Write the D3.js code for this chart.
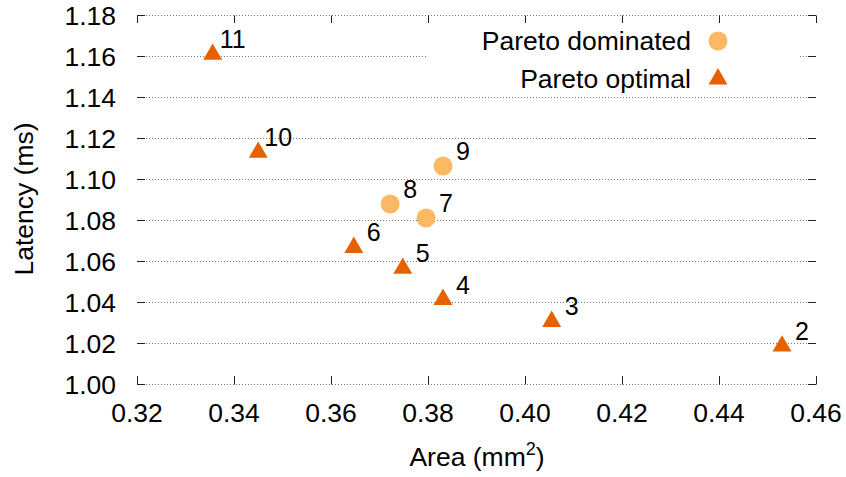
<!DOCTYPE html>
<html>
<head>
<meta charset="utf-8">
<script src="https://cdn.jsdelivr.net/npm/d3@7"></script>
<style>
  body { margin: 0; background: #fff; }
  text { font-family: "Liberation Sans", Arial, sans-serif; fill: #000; }
</style>
</head>
<body>
<div class="chart"></div>
<script>
// data
const labels    = ["2", "3", "4", "5", "6", "7", "8", "9", "10", "11"];
const areas     = [0.4530, 0.4055, 0.3831, 0.3748, 0.3647, 0.3796, 0.3722, 0.3831, 0.3450, 0.3356];
const latencies = [1.0185, 1.0305, 1.0412, 1.0564, 1.0666, 1.0810, 1.0878, 1.1063, 1.1130, 1.1608];
const optimal   = [true, true, true, true, true, false, false, false, true, true];
const xTicks = [0.32, 0.34, 0.36, 0.38, 0.40, 0.42, 0.44, 0.46];
const yTicks = [1.00, 1.02, 1.04, 1.06, 1.08, 1.10, 1.12, 1.14, 1.16, 1.18];

const points = labels.map((l, i) => ({label: l, x: areas[i], y: latencies[i], opt: optimal[i]}));

const W = 846, H = 477;
const margin = {top: 15, right: 30, bottom: 93, left: 137},
    width = W - margin.left - margin.right,
    height = H - margin.top - margin.bottom;

const colDom = "#fdb863", colOpt = "#e66101";
const fs = 26.5, fsLab = 25;

const svg = d3.select(".chart")
  .append("svg")
    .attr("width", W)
    .attr("height", H)
  .append("g")
    .attr("transform", `translate(${margin.left}, ${margin.top})`);

const x = d3.scaleLinear().domain([0.32, 0.46]).range([0, width]);
const y = d3.scaleLinear().domain([1.00, 1.18]).range([height, 0]);

// horizontal dotted grid
svg.append("g")
  .selectAll("line")
  .data(yTicks)
  .join("line")
    .attr("x1", 0).attr("x2", width)
    .attr("y1", d => y(d) + 0.5).attr("y2", d => y(d) + 0.5)
    .attr("stroke", "#777")
    .attr("stroke-width", 1)
    .attr("stroke-dasharray", "1,2");

// legend background hides part of the grid
svg.append("rect")
  .attr("x", 426 - margin.left).attr("y", 22 - margin.top)
  .attr("width", 373).attr("height", 72)
  .attr("fill", "#fff");

// ticks on all four sides, no border
const tk = 8;
const ticks = svg.append("g").attr("stroke", "#222").attr("stroke-width", 1);
xTicks.forEach(v => {
  const px = Math.round(x(v)) + 0.5;
  ticks.append("line").attr("x1", px).attr("x2", px).attr("y1", height + 0.5).attr("y2", height - tk);
  ticks.append("line").attr("x1", px).attr("x2", px).attr("y1", 0.5).attr("y2", tk);
});
yTicks.forEach(v => {
  const py = Math.round(y(v)) + 0.5;
  ticks.append("line").attr("x1", 0).attr("x2", tk).attr("y1", py).attr("y2", py);
  ticks.append("line").attr("x1", width).attr("x2", width - tk).attr("y1", py).attr("y2", py);
});

// tick labels
svg.append("g")
  .selectAll("text")
  .data(xTicks)
  .join("text")
    .attr("x", d => x(d))
    .attr("y", height + 38)
    .attr("text-anchor", "middle")
    .attr("font-size", fs)
    .text(d => d.toFixed(2));
svg.append("g")
  .selectAll("text")
  .data(yTicks)
  .join("text")
    .attr("x", -21)
    .attr("y", d => y(d) + 10)
    .attr("text-anchor", "end")
    .attr("font-size", fs)
    .text(d => d.toFixed(2));

// axis titles
const xt = svg.append("text")
  .attr("x", 477 - margin.left)
  .attr("y", 466 - margin.top)
  .attr("text-anchor", "middle")
  .attr("font-size", fs);
xt.append("tspan").text("Area (mm");
xt.append("tspan").attr("dy", -11).attr("font-size", 18).text("2");
xt.append("tspan").attr("dy", 11).text(")");

svg.append("text")
  .attr("transform", `translate(${33 - margin.left}, ${199 - margin.top}) rotate(-90)`)
  .attr("text-anchor", "middle")
  .attr("font-size", fs)
  .text("Latency (ms)");

// markers
const tri = d3.symbol().type(d3.symbolTriangle).size(155);
svg.append("g")
  .selectAll("path")
  .data(points.filter(d => d.opt))
  .join("path")
    .attr("d", tri)
    .attr("transform", d => `translate(${x(d.x)}, ${y(d.y)})`)
    .attr("fill", colOpt);
svg.append("g")
  .selectAll("circle")
  .data(points.filter(d => !d.opt))
  .join("circle")
    .attr("cx", d => x(d.x))
    .attr("cy", d => y(d.y))
    .attr("r", 9.5)
    .attr("fill", colDom);

// point labels, centred a little right of and above each point
svg.append("g")
  .selectAll("text")
  .data(points)
  .join("text")
    .attr("x", d => x(d.x) + 20)
    .attr("y", d => y(d.y) - 6)
    .attr("text-anchor", "middle")
    .attr("font-size", fsLab)
    .text(d => d.label);

// legend
const legend = [
  {name: "Pareto dominated", opt: false, py: 41},
  {name: "Pareto optimal", opt: true, py: 79}
];
legend.forEach(l => {
  svg.append("text")
    .attr("x", 691 - margin.left)
    .attr("y", l.py - margin.top + 9)
    .attr("text-anchor", "end")
    .attr("font-size", fs)
    .text(l.name);
  if (l.opt) {
    svg.append("path")
      .attr("d", tri)
      .attr("transform", `translate(${718 - margin.left}, ${l.py - margin.top})`)
      .attr("fill", colOpt);
  } else {
    svg.append("circle")
      .attr("cx", 718 - margin.left)
      .attr("cy", l.py - margin.top)
      .attr("r", 9.5)
      .attr("fill", colDom);
  }
});
</script>
</body>
</html>
